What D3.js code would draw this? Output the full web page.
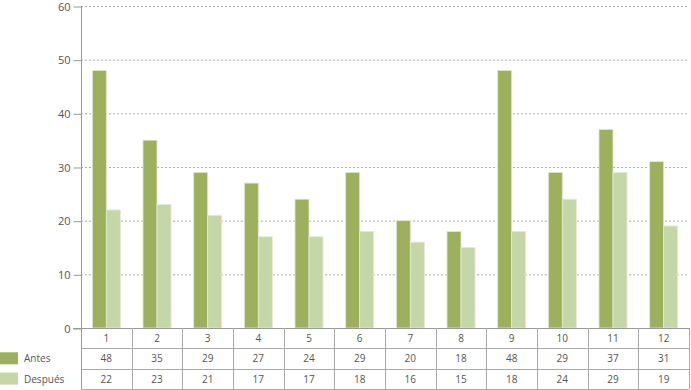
<!DOCTYPE html>
<html>
<head>
<meta charset="utf-8">
<script src="https://cdn.jsdelivr.net/npm/d3@7"></script>
<style>
  body { margin: 0; background: #fff; }
  text { font-family: "Open Sans", sans-serif; fill: #555; }
</style>
</head>
<body>
<script>
// data
var categories = ["1","2","3","4","5","6","7","8","9","10","11","12"];
var antes = [48, 35, 29, 27, 24, 29, 20, 18, 48, 29, 37, 31];
var despues = [22, 23, 21, 17, 17, 18, 16, 15, 18, 24, 29, 19];
var seriesNames = ["Antes", "Después"];
var yTicks = [0, 10, 20, 30, 40, 50, 60];

var w = 691, h = 390;
var plotLeft = 81, plotRight = 689, plotTop = 6, plotBottom = 328;
var rowH = 20.3;
var colors = ["#9cb05e", "#c6d7a7"];

var svg = d3.select("body").append("svg")
  .attr("width", w).attr("height", h);

var x = d3.scaleBand().domain(categories).range([plotLeft, plotRight]).paddingInner(0).paddingOuter(0);
var y = d3.scaleLinear().domain([0, 60]).range([plotBottom, plotTop]);
var barW = 14;

// grid lines
svg.append("g").selectAll("line")
  .data(yTicks.filter(d => d > 0))
  .enter().append("line")
  .attr("x1", plotLeft).attr("x2", plotRight)
  .attr("y1", d => y(d) + 0.5).attr("y2", d => y(d) + 0.5)
  .attr("stroke", "#aaa").attr("stroke-dasharray", "2,2");

// y axis
var yAxis = d3.axisLeft(y).tickValues(yTicks).tickSize(8).tickPadding(3);
var ga = svg.append("g")
  .attr("transform", "translate(" + (plotLeft + 0.5) + ",0.5)")
  .call(yAxis);
ga.select(".domain").remove();
ga.selectAll("line").attr("stroke", "#999");
ga.selectAll("text").attr("font-size", "11px").style("fill", "#555")
  .attr("font-family", "Open Sans, sans-serif");

// bars
var series = [antes, despues];
series.forEach(function(vals, s) {
  svg.append("g").selectAll("rect")
    .data(vals)
    .enter().append("rect")
    .attr("x", (d, i) => x(categories[i]) + x.bandwidth() / 2 - barW + s * barW)
    .attr("y", d => y(d))
    .attr("width", barW)
    .attr("height", d => plotBottom - y(d))
    .attr("fill", colors[s])
    .attr("stroke", "#e3ead3")
    .attr("stroke-width", 0.8);
});

// axis lines
svg.append("line")
  .attr("x1", plotLeft + 0.5).attr("x2", plotLeft + 0.5)
  .attr("y1", plotTop).attr("y2", plotBottom + rowH * 3)
  .attr("stroke", "#999");
svg.append("line")
  .attr("x1", plotLeft - 8).attr("x2", plotRight)
  .attr("y1", plotBottom + 0.5).attr("y2", plotBottom + 0.5)
  .attr("stroke", "#999");

// data table
var table = svg.append("g");
[1, 2, 3].forEach(function(r) {
  var yy = Math.round(plotBottom + rowH * r) + 0.5;
  table.append("line")
    .attr("x1", plotLeft).attr("x2", plotRight)
    .attr("y1", yy).attr("y2", yy)
    .attr("stroke", "#aaa");
});
table.selectAll(".vl")
  .data(categories)
  .enter().append("line")
  .attr("x1", d => Math.round(x(d) + x.bandwidth()) + 0.5)
  .attr("x2", d => Math.round(x(d) + x.bandwidth()) + 0.5)
  .attr("y1", plotBottom).attr("y2", plotBottom + rowH * 3)
  .attr("stroke", "#aaa");

var rows = [categories, antes, despues];
rows.forEach(function(row, r) {
  table.append("g").selectAll("text")
    .data(row)
    .enter().append("text")
    .attr("x", (d, i) => x(categories[i]) + x.bandwidth() / 2)
    .attr("y", plotBottom + rowH * r + 14)
    .attr("text-anchor", "middle")
    .attr("font-size", "10px")
    .text(d => d);
});

// legend
seriesNames.forEach(function(name, s) {
  var yy = plotBottom + rowH * (s + 1);
  svg.append("rect")
    .attr("x", 0).attr("y", yy + 4)
    .attr("width", 18).attr("height", 12)
    .attr("fill", colors[s]);
  svg.append("text")
    .attr("x", 24).attr("y", yy + 14)
    .attr("font-size", "10px")
    .text(name);
});
</script>
</body>
</html>
